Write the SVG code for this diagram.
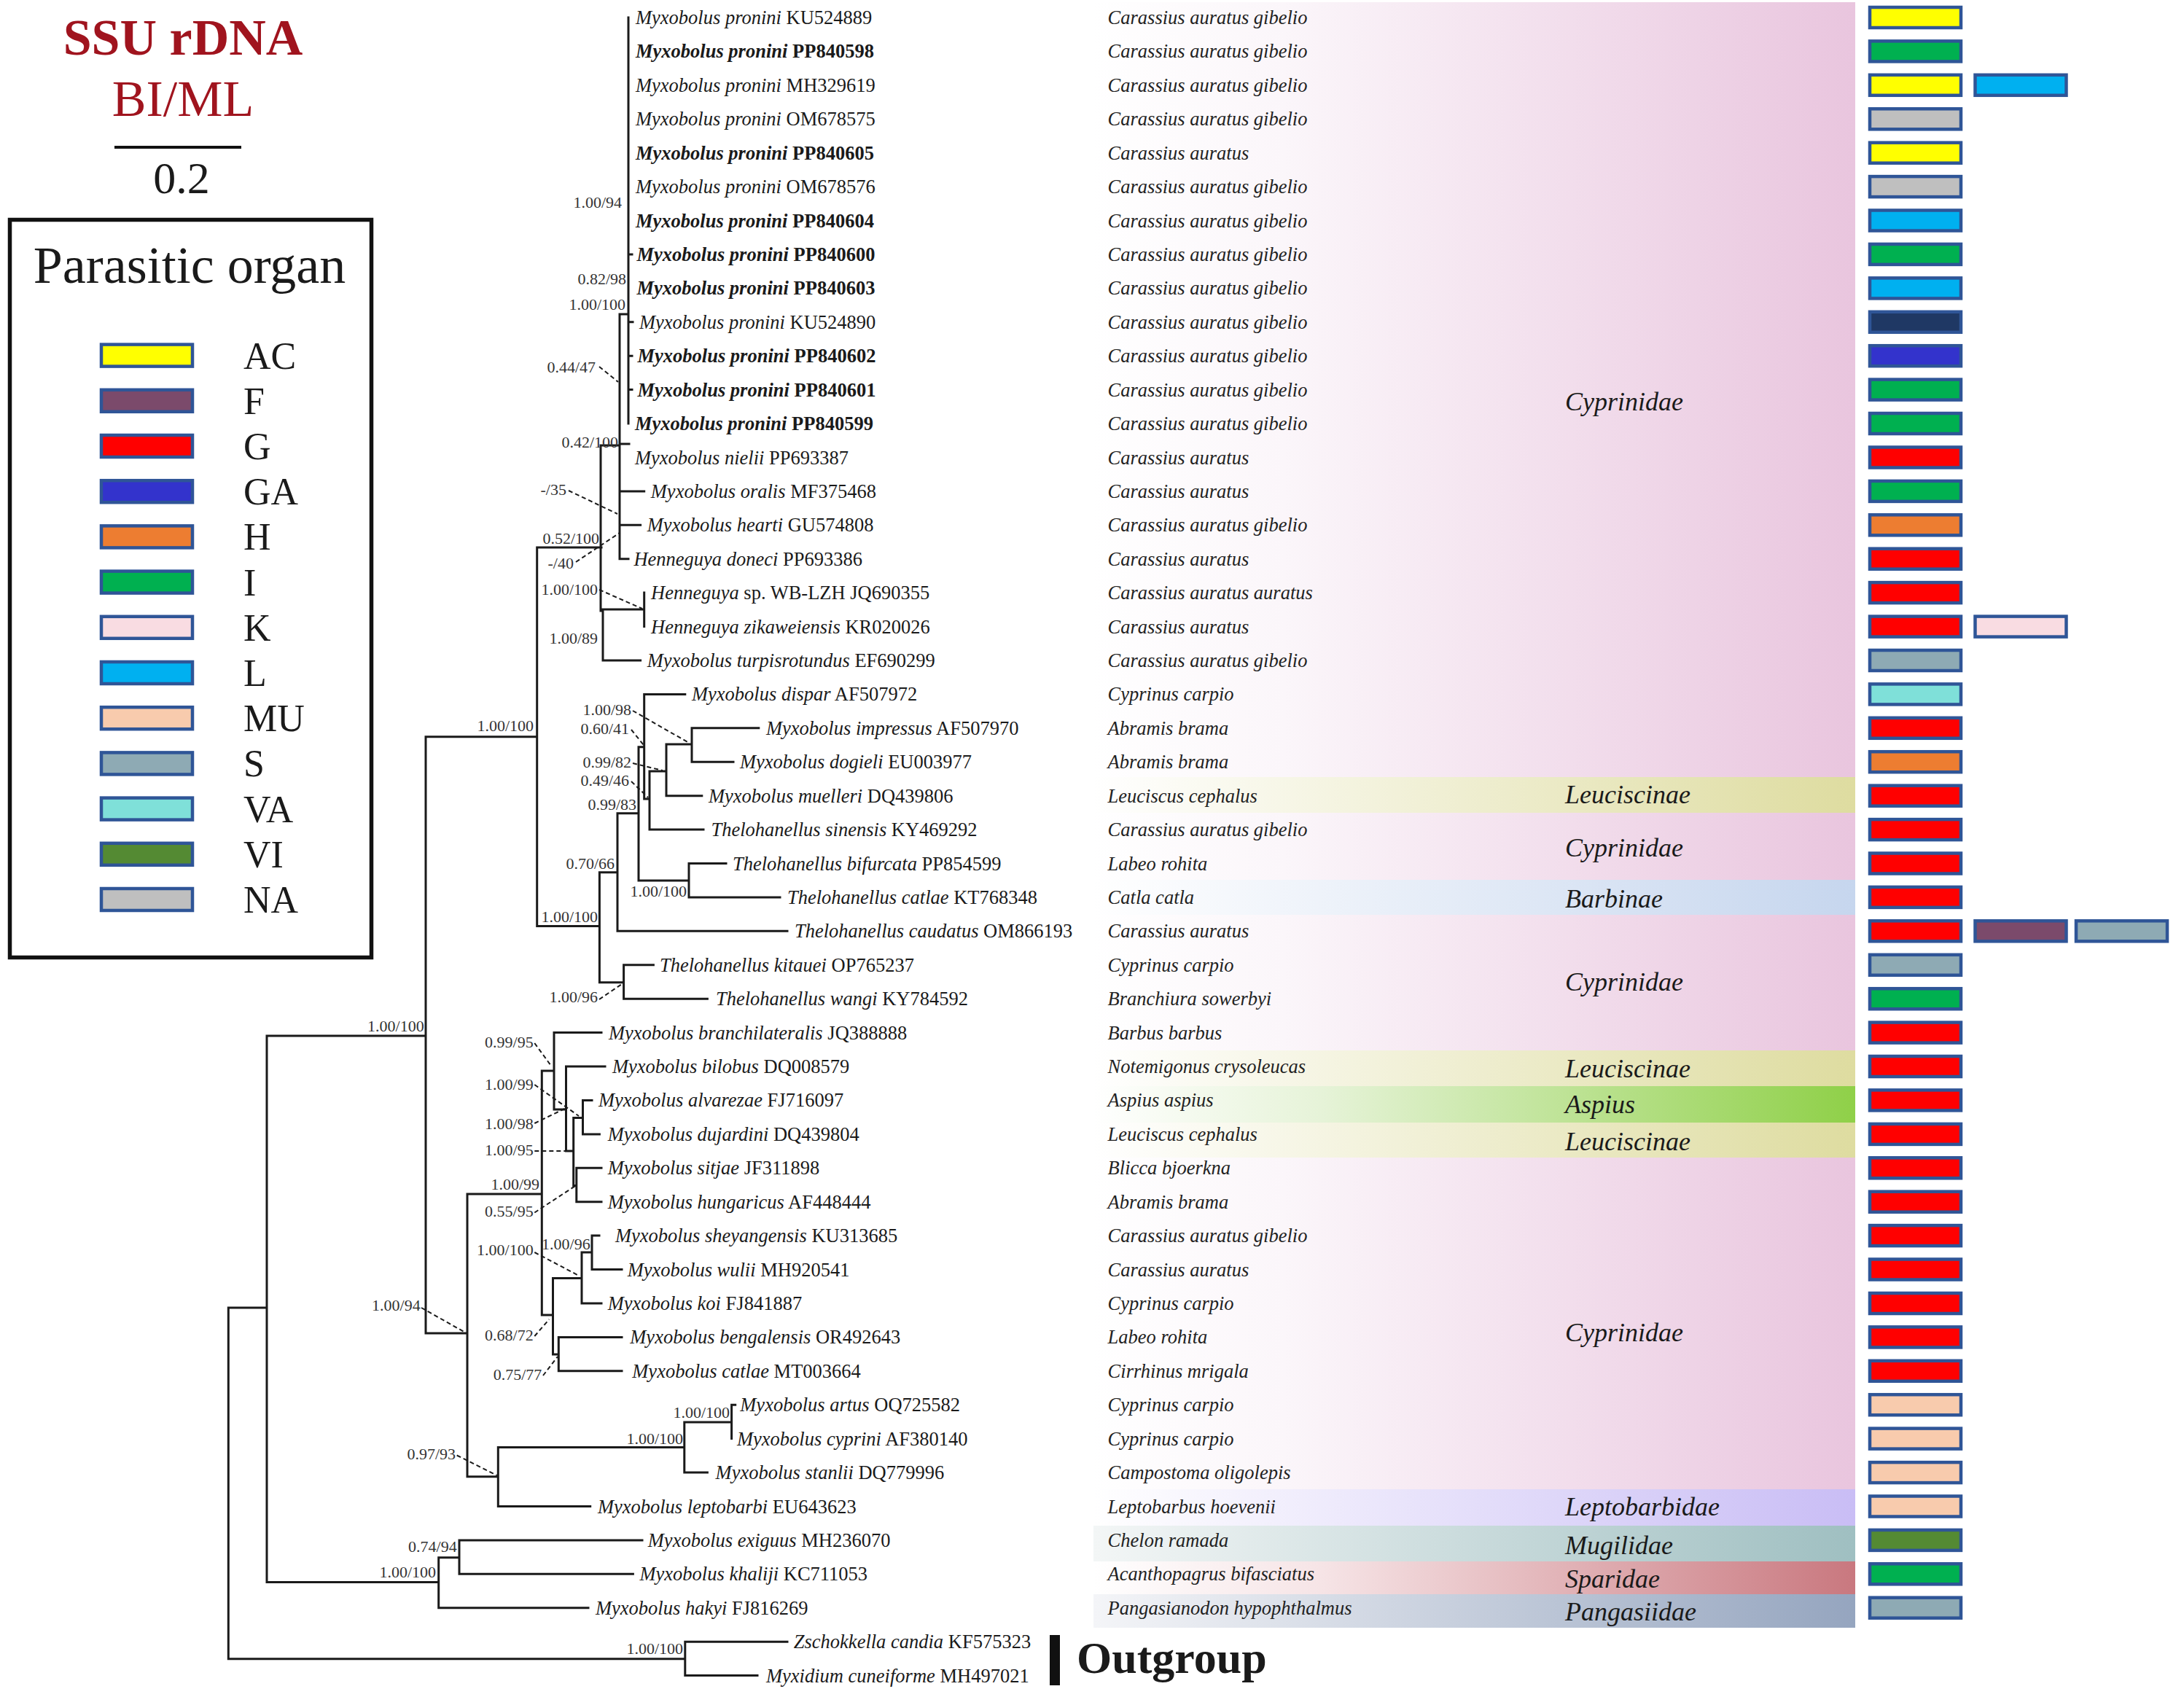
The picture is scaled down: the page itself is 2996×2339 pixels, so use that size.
<svg xmlns="http://www.w3.org/2000/svg" width="2996" height="2339" viewBox="0 0 2996 2339">
<defs>
<style>
text{font-family:"Liberation Serif","Times New Roman",serif;fill:#1a1a1a}
.tx{font-size:26.5px}
.i{font-style:italic}
.b{font-weight:bold}
.host{font-size:26.5px;font-style:italic;fill:#222}
.sup{font-size:22px;fill:#333}
.fam{font-size:36px;font-style:italic;fill:#1a1a1a}
.br{stroke:#1a1a1a;stroke-width:3;fill:none;stroke-linecap:square}
.ptr{stroke:#1a1a1a;stroke-width:2;fill:none;stroke-dasharray:6 4}
.box{stroke:#2F5597;stroke-width:4.5}
.AC{fill:#FFFF00}.F{fill:#7B4A6B}.G{fill:#FF0000}.GA{fill:#3333CC}.H{fill:#ED7D31}.I{fill:#00B050}.K{fill:#F9DCE2}.L{fill:#00B0F0}.MU{fill:#F8CBAD}.S{fill:#8EAAB4}.VA{fill:#7FE0D9}.VI{fill:#548A33}.NA{fill:#BFBFBF}.NV{fill:#1F3864}
</style>
<linearGradient id="gCyp" x1="0" x2="1" y1="0" y2="0"><stop offset="0" stop-color="#ffffff"/><stop offset="0.25" stop-color="#fbf6fa"/><stop offset="1" stop-color="#e9c5de"/></linearGradient>
<linearGradient id="gLeu" x1="0" x2="1" y1="0" y2="0"><stop offset="0" stop-color="#ffffff"/><stop offset="1" stop-color="#dedca0"/></linearGradient>
<linearGradient id="gBar" x1="0" x2="1" y1="0" y2="0"><stop offset="0" stop-color="#ffffff"/><stop offset="1" stop-color="#c6d6ee"/></linearGradient>
<linearGradient id="gAsp" x1="0" x2="1" y1="0" y2="0"><stop offset="0" stop-color="#ffffff"/><stop offset="0.3" stop-color="#e6f3d8"/><stop offset="1" stop-color="#8fd048"/></linearGradient>
<linearGradient id="gLep" x1="0" x2="1" y1="0" y2="0"><stop offset="0" stop-color="#ffffff"/><stop offset="1" stop-color="#c9bdf5"/></linearGradient>
<linearGradient id="gMug" x1="0" x2="1" y1="0" y2="0"><stop offset="0" stop-color="#f3f6f6"/><stop offset="1" stop-color="#9fbfc1"/></linearGradient>
<linearGradient id="gSpa" x1="0" x2="1" y1="0" y2="0"><stop offset="0" stop-color="#ffffff"/><stop offset="0.3" stop-color="#f6e4e6"/><stop offset="1" stop-color="#c9787f"/></linearGradient>
<linearGradient id="gPan" x1="0" x2="1" y1="0" y2="0"><stop offset="0" stop-color="#f4f5f8"/><stop offset="1" stop-color="#95a5bf"/></linearGradient>
</defs>
<rect width="2996" height="2339" fill="#ffffff"/>

<g id="family-bands">
<rect x="1500" y="3" width="1045" height="1063" fill="url(#gCyp)"/>
<rect x="1500" y="1066" width="1045" height="49" fill="url(#gLeu)"/>
<rect x="1500" y="1115" width="1045" height="92" fill="url(#gCyp)"/>
<rect x="1500" y="1207" width="1045" height="48" fill="url(#gBar)"/>
<rect x="1500" y="1255" width="1045" height="186" fill="url(#gCyp)"/>
<rect x="1500" y="1441" width="1045" height="49" fill="url(#gLeu)"/>
<rect x="1500" y="1490" width="1045" height="50" fill="url(#gAsp)"/>
<rect x="1500" y="1540" width="1045" height="48" fill="url(#gLeu)"/>
<rect x="1500" y="1588" width="1045" height="455" fill="url(#gCyp)"/>
<rect x="1500" y="2043" width="1045" height="50" fill="url(#gLep)"/>
<rect x="1500" y="2093" width="1045" height="49" fill="url(#gMug)"/>
<rect x="1500" y="2142" width="1045" height="45" fill="url(#gSpa)"/>
<rect x="1500" y="2187" width="1045" height="46" fill="url(#gPan)"/>
<text class="fam" x="2147" y="562.5">Cyprinidae</text>
<text class="fam" x="2147" y="1102">Leuciscinae</text>
<text class="fam" x="2147" y="1174.7">Cyprinidae</text>
<text class="fam" x="2147" y="1244.8">Barbinae</text>
<text class="fam" x="2147" y="1358.5">Cyprinidae</text>
<text class="fam" x="2147" y="1477.6">Leuciscinae</text>
<text class="fam" x="2147" y="1527">Aspius</text>
<text class="fam" x="2147" y="1578.4">Leuciscinae</text>
<text class="fam" x="2147" y="1840">Cyprinidae</text>
<text class="fam" x="2147" y="2079">Leptobarbidae</text>
<text class="fam" x="2147" y="2132">Mugilidae</text>
<text class="fam" x="2147" y="2177.5">Sparidae</text>
<text class="fam" x="2147" y="2223">Pangasiidae</text>
</g>

<g id="title">
<text x="251" y="75" font-size="70" font-weight="bold" text-anchor="middle" style="fill:#A0141E">SSU rDNA</text>
<text x="251" y="159" font-size="70" text-anchor="middle" style="fill:#A0141E">BI/ML</text>
<line x1="157" y1="202" x2="331" y2="202" stroke="#111" stroke-width="4"/>
<text x="249" y="265" font-size="62" text-anchor="middle">0.2</text>
</g>

<g id="legend">
<rect x="13.5" y="301.5" width="496" height="1012" fill="#fff" stroke="#111" stroke-width="5.5"/>
<text x="260" y="388" font-size="72" text-anchor="middle">Parasitic organ</text>
<g font-size="52">
<rect class="box AC" x="139" y="472.6" width="125" height="30" stroke-width="4"/><text x="334" y="506">AC</text>
<rect class="box F" x="139" y="534.8" width="125" height="30" stroke-width="4"/><text x="334" y="568">F</text>
<rect class="box G" x="139" y="597" width="125" height="30" stroke-width="4"/><text x="334" y="630">G</text>
<rect class="box GA" x="139" y="659.2" width="125" height="30" stroke-width="4"/><text x="334" y="692">GA</text>
<rect class="box H" x="139" y="721.4" width="125" height="30" stroke-width="4"/><text x="334" y="754">H</text>
<rect class="box I" x="139" y="783.6" width="125" height="30" stroke-width="4"/><text x="334" y="817">I</text>
<rect class="box K" x="139" y="845.8" width="125" height="30" stroke-width="4"/><text x="334" y="879">K</text>
<rect class="box L" x="139" y="908" width="125" height="30" stroke-width="4"/><text x="334" y="941">L</text>
<rect class="box MU" x="139" y="970.2" width="125" height="30" stroke-width="4"/><text x="334" y="1003">MU</text>
<rect class="box S" x="139" y="1032.4" width="125" height="30" stroke-width="4"/><text x="334" y="1065">S</text>
<rect class="box VA" x="139" y="1094.6" width="125" height="30" stroke-width="4"/><text x="334" y="1128">VA</text>
<rect class="box VI" x="139" y="1156.8" width="125" height="30" stroke-width="4"/><text x="334" y="1190">VI</text>
<rect class="box NA" x="139" y="1219" width="125" height="30" stroke-width="4"/><text x="334" y="1252">NA</text>
</g>
</g>

<g id="connectors">
<path class="br" d="M313.3,1794V2275.8M313.3,1794H366M313.3,2275.8H939.8
M939.8,2252.2V2298.6M939.8,2252.2H1080M939.8,2298.6H1039
M366,1421V2170.6M366,1421H584M366,2170.6H601.7
M601.7,2136.8V2205.7M601.7,2136.8H630M601.7,2205.7H807
M630,2112.9V2159.3M630,2112.9H881M630,2159.3H868.4
M584,1010.8V1829M584,1010.8H736.7M584,1829H641
M736.7,751V1270.6M736.7,751H825M736.7,1270.6H822.4
M824,611V838M824,611H850
M850,431V766.7M850,431H862M850,609H863M850,673.9H883.7M850,720.3H878.6M850,766.7H862
M862,24V581M862,348.9H867M862,441.8H868M862,488.2H867M862,534.6H867
M827,836V906M824,836H883.7M827,906H878.6
M883.7,813.1V859.6
M822.4,1196.7V1347.7M822.4,1196.7H847M822.4,1347.7H855.6
M847,1115.8V1277.3M847,1115.8H876M847,1277.3H1080
M876,1024.8V1208M876,1024.8H883.7M876,1208H945
M883.7,952.4V1096M883.7,952.4H939.8M883.7,1096H891
M891,1058V1138.1M891,1058H914M891,1138.1H965
M914,1021V1091.7M914,1021H949M914,1091.7H962.8
M949,998.8V1045.2M949,998.8H1040.8M949,1045.2H1006
M945,1184.5V1230.9M945,1184.5H996M945,1230.9H1070
M855.6,1323.8V1370.2M855.6,1323.8H896.4M855.6,1370.2H970.4
M641,1638V2025.8M641,1638H743.3M641,2025.8H683.3
M683.3,1985.6V2066.5M683.3,1985.6H938.8M683.3,2066.5H809.7
M938.8,1951V2020.1M938.8,1951H1003.6M938.8,2020.1H970.4
M1003.6,1927.2V1973.6M1003.6,1927.2H1008.7
M743.3,1469V1804M743.3,1469H760M743.3,1804H758.5
M760,1416.6V1522M760,1416.6H825M760,1522H776.5
M776.5,1463V1579M776.5,1463H830M776.5,1579H786.7
M786.7,1533.5V1626.5M786.7,1533.5H799.5M786.7,1626.5H790.8
M799.5,1509.4V1555.9M799.5,1509.4H812M799.5,1555.9H822.4
M790.8,1602.3V1648.7M790.8,1602.3H825M790.8,1648.7H825
M758.5,1753.6V1858M758.5,1753.6H798M758.5,1858H766.3
M798,1718V1788M798,1718H812M798,1788H825
M812,1695.1V1741.5M812,1695.1H822M812,1741.5H853
M766.3,1834.4V1880.8M766.3,1834.4H853M766.3,1880.8H853"/>
<path class="ptr" d="M822,503L848,524M780,673L847,705M790,771L850,731M822,809L881,835M868,975L945,1019M866,1001L883.7,1023M868,1047L909,1057M866,1072L889,1094M822,1371L853,1350M733.3,1431L756.7,1463M733.3,1488L794,1531M733.3,1541L776.5,1520M733.3,1579L776.5,1579M733.3,1663.5L789,1627M733.3,1718L794,1750M578,1794L640,1829M733.3,1833L753.3,1810M745,1887L765,1861M626.7,1996.5L681.7,2024"/>
</g>

<g id="support-values" class="sup" text-anchor="end">
<text class="sup" x="853" y="285">1.00/94</text>
<text class="sup" x="859" y="390">0.82/98</text>
<text class="sup" x="858" y="425">1.00/100</text>
<text class="sup" x="817" y="511">0.44/47</text>
<text class="sup" x="848" y="614">0.42/100</text>
<text class="sup" x="777" y="679">-/35</text>
<text class="sup" x="822" y="746">0.52/100</text>
<text class="sup" x="787" y="780">-/40</text>
<text class="sup" x="820" y="816">1.00/100</text>
<text class="sup" x="820" y="883">1.00/89</text>
<text class="sup" x="866" y="981">1.00/98</text>
<text class="sup" x="863" y="1007">0.60/41</text>
<text class="sup" x="732" y="1003">1.00/100</text>
<text class="sup" x="866" y="1052.5">0.99/82</text>
<text class="sup" x="863" y="1078">0.49/46</text>
<text class="sup" x="873" y="1111">0.99/83</text>
<text class="sup" x="843" y="1191.5">0.70/66</text>
<text class="sup" x="942" y="1230">1.00/100</text>
<text class="sup" x="820" y="1265">1.00/100</text>
<text class="sup" x="820" y="1375">1.00/96</text>
<text class="sup" x="581.7" y="1414.8">1.00/100</text>
<text class="sup" x="731.7" y="1437">0.99/95</text>
<text class="sup" x="731.7" y="1494.5">1.00/99</text>
<text class="sup" x="731.7" y="1548.7">1.00/98</text>
<text class="sup" x="731.7" y="1585">1.00/95</text>
<text class="sup" x="740" y="1631.7">1.00/99</text>
<text class="sup" x="731.7" y="1668.6">0.55/95</text>
<text class="sup" x="809.7" y="1713.5">1.00/96</text>
<text class="sup" x="731.7" y="1722">1.00/100</text>
<text class="sup" x="576.7" y="1797.5">1.00/94</text>
<text class="sup" x="731.7" y="1839">0.68/72</text>
<text class="sup" x="743.3" y="1893">0.75/77</text>
<text class="sup" x="1001" y="1945">1.00/100</text>
<text class="sup" x="937" y="1980.6">1.00/100</text>
<text class="sup" x="625" y="2001.6">0.97/93</text>
<text class="sup" x="626.7" y="2129">0.74/94</text>
<text class="sup" x="598" y="2164">1.00/100</text>
<text class="sup" x="937" y="2268.8">1.00/100</text>
</g>

<g id="taxa">
<g id="t01" transform="translate(0,24)"><text class="tx" x="872" y="9"><tspan class="i">Myxobolus pronini</tspan> KU524889</text><text class="host" x="1519.6" y="9">Carassius auratus gibelio</text><rect class="box AC" x="2565" y="-14" width="125" height="28"/></g>
<g id="t02" transform="translate(0,70.4)"><text class="tx b" x="872" y="9"><tspan class="i">Myxobolus pronini</tspan> PP840598</text><text class="host" x="1519.6" y="9">Carassius auratus gibelio</text><rect class="box I" x="2565" y="-14" width="125" height="28"/></g>
<g id="t03" transform="translate(0,116.8)"><text class="tx" x="872" y="9"><tspan class="i">Myxobolus pronini</tspan> MH329619</text><text class="host" x="1519.6" y="9">Carassius auratus gibelio</text><rect class="box AC" x="2565" y="-14" width="125" height="28"/><rect class="box L" x="2709.5" y="-14" width="125" height="28"/></g>
<g id="t04" transform="translate(0,163.3)"><text class="tx" x="872" y="9"><tspan class="i">Myxobolus pronini</tspan> OM678575</text><text class="host" x="1519.6" y="9">Carassius auratus gibelio</text><rect class="box NA" x="2565" y="-14" width="125" height="28"/></g>
<g id="t05" transform="translate(0,209.7)"><text class="tx b" x="872" y="9"><tspan class="i">Myxobolus pronini</tspan> PP840605</text><text class="host" x="1519.6" y="9">Carassius auratus</text><rect class="box AC" x="2565" y="-14" width="125" height="28"/></g>
<g id="t06" transform="translate(0,256.1)"><text class="tx" x="872" y="9"><tspan class="i">Myxobolus pronini</tspan> OM678576</text><text class="host" x="1519.6" y="9">Carassius auratus gibelio</text><rect class="box NA" x="2565" y="-14" width="125" height="28"/></g>
<g id="t07" transform="translate(0,302.5)"><text class="tx b" x="872" y="9"><tspan class="i">Myxobolus pronini</tspan> PP840604</text><text class="host" x="1519.6" y="9">Carassius auratus gibelio</text><rect class="box L" x="2565" y="-14" width="125" height="28"/></g>
<g id="t08" transform="translate(0,348.9)"><text class="tx b" x="873.5" y="9"><tspan class="i">Myxobolus pronini</tspan> PP840600</text><text class="host" x="1519.6" y="9">Carassius auratus gibelio</text><rect class="box I" x="2565" y="-14" width="125" height="28"/></g>
<g id="t09" transform="translate(0,395.4)"><text class="tx b" x="873.5" y="9"><tspan class="i">Myxobolus pronini</tspan> PP840603</text><text class="host" x="1519.6" y="9">Carassius auratus gibelio</text><rect class="box L" x="2565" y="-14" width="125" height="28"/></g>
<g id="t10" transform="translate(0,441.8)"><text class="tx" x="877" y="9"><tspan class="i">Myxobolus pronini</tspan> KU524890</text><text class="host" x="1519.6" y="9">Carassius auratus gibelio</text><rect class="box NV" x="2565" y="-14" width="125" height="28"/></g>
<g id="t11" transform="translate(0,488.2)"><text class="tx b" x="874.5" y="9"><tspan class="i">Myxobolus pronini</tspan> PP840602</text><text class="host" x="1519.6" y="9">Carassius auratus gibelio</text><rect class="box GA" x="2565" y="-14" width="125" height="28"/></g>
<g id="t12" transform="translate(0,534.6)"><text class="tx b" x="874.5" y="9"><tspan class="i">Myxobolus pronini</tspan> PP840601</text><text class="host" x="1519.6" y="9">Carassius auratus gibelio</text><rect class="box I" x="2565" y="-14" width="125" height="28"/></g>
<g id="t13" transform="translate(0,581)"><text class="tx b" x="871" y="9"><tspan class="i">Myxobolus pronini</tspan> PP840599</text><text class="host" x="1519.6" y="9">Carassius auratus gibelio</text><rect class="box I" x="2565" y="-14" width="125" height="28"/></g>
<g id="t14" transform="translate(0,627.5)"><text class="tx" x="871" y="9"><tspan class="i">Myxobolus nielii</tspan> PP693387</text><text class="host" x="1519.6" y="9">Carassius auratus</text><rect class="box G" x="2565" y="-14" width="125" height="28"/></g>
<g id="t15" transform="translate(0,673.9)"><text class="tx" x="892.8" y="9"><tspan class="i">Myxobolus oralis</tspan> MF375468</text><text class="host" x="1519.6" y="9">Carassius auratus</text><rect class="box I" x="2565" y="-14" width="125" height="28"/></g>
<g id="t16" transform="translate(0,720.3)"><text class="tx" x="887.8" y="9"><tspan class="i">Myxobolus hearti</tspan> GU574808</text><text class="host" x="1519.6" y="9">Carassius auratus gibelio</text><rect class="box H" x="2565" y="-14" width="125" height="28"/></g>
<g id="t17" transform="translate(0,766.7)"><text class="tx" x="869.4" y="9"><tspan class="i">Henneguya doneci</tspan> PP693386</text><text class="host" x="1519.6" y="9">Carassius auratus</text><rect class="box G" x="2565" y="-14" width="125" height="28"/></g>
<g id="t18" transform="translate(0,813.1)"><text class="tx" x="893" y="9"><tspan class="i">Henneguya</tspan> sp. WB-LZH JQ690355</text><text class="host" x="1519.6" y="9">Carassius auratus auratus</text><rect class="box G" x="2565" y="-14" width="125" height="28"/></g>
<g id="t19" transform="translate(0,859.6)"><text class="tx" x="893" y="9"><tspan class="i">Henneguya zikaweiensis</tspan> KR020026</text><text class="host" x="1519.6" y="9">Carassius auratus</text><rect class="box G" x="2565" y="-14" width="125" height="28"/><rect class="box K" x="2709.5" y="-14" width="125" height="28"/></g>
<g id="t20" transform="translate(0,906)"><text class="tx" x="887.8" y="9"><tspan class="i">Myxobolus turpisrotundus</tspan> EF690299</text><text class="host" x="1519.6" y="9">Carassius auratus gibelio</text><rect class="box S" x="2565" y="-14" width="125" height="28"/></g>
<g id="t21" transform="translate(0,952.4)"><text class="tx" x="949" y="9"><tspan class="i">Myxobolus dispar</tspan> AF507972</text><text class="host" x="1519.6" y="9">Cyprinus carpio</text><rect class="box VA" x="2565" y="-14" width="125" height="28"/></g>
<g id="t22" transform="translate(0,998.8)"><text class="tx" x="1051" y="9"><tspan class="i">Myxobolus impressus</tspan> AF507970</text><text class="host" x="1519.6" y="9">Abramis brama</text><rect class="box G" x="2565" y="-14" width="125" height="28"/></g>
<g id="t23" transform="translate(0,1045.2)"><text class="tx" x="1015" y="9"><tspan class="i">Myxobolus dogieli</tspan> EU003977</text><text class="host" x="1519.6" y="9">Abramis brama</text><rect class="box H" x="2565" y="-14" width="125" height="28"/></g>
<g id="t24" transform="translate(0,1091.7)"><text class="tx" x="972" y="9"><tspan class="i">Myxobolus muelleri</tspan> DQ439806</text><text class="host" x="1519.6" y="9">Leuciscus cephalus</text><rect class="box G" x="2565" y="-14" width="125" height="28"/></g>
<g id="t25" transform="translate(0,1138.1)"><text class="tx" x="975.5" y="9"><tspan class="i">Thelohanellus sinensis</tspan> KY469292</text><text class="host" x="1519.6" y="9">Carassius auratus gibelio</text><rect class="box G" x="2565" y="-14" width="125" height="28"/></g>
<g id="t26" transform="translate(0,1184.5)"><text class="tx" x="1005" y="9"><tspan class="i">Thelohanellus bifurcata</tspan> PP854599</text><text class="host" x="1519.6" y="9">Labeo rohita</text><rect class="box G" x="2565" y="-14" width="125" height="28"/></g>
<g id="t27" transform="translate(0,1230.9)"><text class="tx" x="1080" y="9"><tspan class="i">Thelohanellus catlae</tspan> KT768348</text><text class="host" x="1519.6" y="9">Catla catla</text><rect class="box G" x="2565" y="-14" width="125" height="28"/></g>
<g id="t28" transform="translate(0,1277.3)"><text class="tx" x="1090" y="9"><tspan class="i">Thelohanellus caudatus</tspan> OM866193</text><text class="host" x="1519.6" y="9">Carassius auratus</text><rect class="box G" x="2565" y="-14" width="125" height="28"/><rect class="box F" x="2709.5" y="-14" width="125" height="28"/><rect class="box S" x="2848" y="-14" width="125" height="28"/></g>
<g id="t29" transform="translate(0,1323.8)"><text class="tx" x="905" y="9"><tspan class="i">Thelohanellus kitauei</tspan> OP765237</text><text class="host" x="1519.6" y="9">Cyprinus carpio</text><rect class="box S" x="2565" y="-14" width="125" height="28"/></g>
<g id="t30" transform="translate(0,1370.2)"><text class="tx" x="982" y="9"><tspan class="i">Thelohanellus wangi</tspan> KY784592</text><text class="host" x="1519.6" y="9">Branchiura sowerbyi</text><rect class="box I" x="2565" y="-14" width="125" height="28"/></g>
<g id="t31" transform="translate(0,1416.6)"><text class="tx" x="835" y="9"><tspan class="i">Myxobolus branchilateralis</tspan> JQ388888</text><text class="host" x="1519.6" y="9">Barbus barbus</text><rect class="box G" x="2565" y="-14" width="125" height="28"/></g>
<g id="t32" transform="translate(0,1463)"><text class="tx" x="840" y="9"><tspan class="i">Myxobolus bilobus</tspan> DQ008579</text><text class="host" x="1519.6" y="9">Notemigonus crysoleucas</text><rect class="box G" x="2565" y="-14" width="125" height="28"/></g>
<g id="t33" transform="translate(0,1509.4)"><text class="tx" x="821" y="9"><tspan class="i">Myxobolus alvarezae</tspan> FJ716097</text><text class="host" x="1519.6" y="9">Aspius aspius</text><rect class="box G" x="2565" y="-14" width="125" height="28"/></g>
<g id="t34" transform="translate(0,1555.9)"><text class="tx" x="833.7" y="9"><tspan class="i">Myxobolus dujardini</tspan> DQ439804</text><text class="host" x="1519.6" y="9">Leuciscus cephalus</text><rect class="box G" x="2565" y="-14" width="125" height="28"/></g>
<g id="t35" transform="translate(0,1602.3)"><text class="tx" x="833.7" y="9"><tspan class="i">Myxobolus sitjae</tspan> JF311898</text><text class="host" x="1519.6" y="9">Blicca bjoerkna</text><rect class="box G" x="2565" y="-14" width="125" height="28"/></g>
<g id="t36" transform="translate(0,1648.7)"><text class="tx" x="833.7" y="9"><tspan class="i">Myxobolus hungaricus</tspan> AF448444</text><text class="host" x="1519.6" y="9">Abramis brama</text><rect class="box G" x="2565" y="-14" width="125" height="28"/></g>
<g id="t37" transform="translate(0,1695.1)"><text class="tx" x="844" y="9"><tspan class="i">Myxobolus sheyangensis</tspan> KU313685</text><text class="host" x="1519.6" y="9">Carassius auratus gibelio</text><rect class="box G" x="2565" y="-14" width="125" height="28"/></g>
<g id="t38" transform="translate(0,1741.5)"><text class="tx" x="860.7" y="9"><tspan class="i">Myxobolus wulii</tspan> MH920541</text><text class="host" x="1519.6" y="9">Carassius auratus</text><rect class="box G" x="2565" y="-14" width="125" height="28"/></g>
<g id="t39" transform="translate(0,1788)"><text class="tx" x="833.7" y="9"><tspan class="i">Myxobolus koi</tspan> FJ841887</text><text class="host" x="1519.6" y="9">Cyprinus carpio</text><rect class="box G" x="2565" y="-14" width="125" height="28"/></g>
<g id="t40" transform="translate(0,1834.4)"><text class="tx" x="864.3" y="9"><tspan class="i">Myxobolus bengalensis</tspan> OR492643</text><text class="host" x="1519.6" y="9">Labeo rohita</text><rect class="box G" x="2565" y="-14" width="125" height="28"/></g>
<g id="t41" transform="translate(0,1880.8)"><text class="tx" x="867.3" y="9"><tspan class="i">Myxobolus catlae</tspan> MT003664</text><text class="host" x="1519.6" y="9">Cirrhinus mrigala</text><rect class="box G" x="2565" y="-14" width="125" height="28"/></g>
<g id="t42" transform="translate(0,1927.2)"><text class="tx" x="1015.3" y="9"><tspan class="i">Myxobolus artus</tspan> OQ725582</text><text class="host" x="1519.6" y="9">Cyprinus carpio</text><rect class="box MU" x="2565" y="-14" width="125" height="28"/></g>
<g id="t43" transform="translate(0,1973.6)"><text class="tx" x="1011" y="9"><tspan class="i">Myxobolus cyprini</tspan> AF380140</text><text class="host" x="1519.6" y="9">Cyprinus carpio</text><rect class="box MU" x="2565" y="-14" width="125" height="28"/></g>
<g id="t44" transform="translate(0,2020.1)"><text class="tx" x="981.6" y="9"><tspan class="i">Myxobolus stanlii</tspan> DQ779996</text><text class="host" x="1519.6" y="9">Campostoma oligolepis</text><rect class="box MU" x="2565" y="-14" width="125" height="28"/></g>
<g id="t45" transform="translate(0,2066.5)"><text class="tx" x="819.9" y="9"><tspan class="i">Myxobolus leptobarbi</tspan> EU643623</text><text class="host" x="1519.6" y="9">Leptobarbus hoevenii</text><rect class="box MU" x="2565" y="-14" width="125" height="28"/></g>
<g id="t46" transform="translate(0,2112.9)"><text class="tx" x="888.8" y="9"><tspan class="i">Myxobolus exiguus</tspan> MH236070</text><text class="host" x="1519.6" y="9">Chelon ramada</text><rect class="box VI" x="2565" y="-14" width="125" height="28"/></g>
<g id="t47" transform="translate(0,2159.3)"><text class="tx" x="877.5" y="9"><tspan class="i">Myxobolus khaliji</tspan> KC711053</text><text class="host" x="1519.6" y="9">Acanthopagrus bifasciatus</text><rect class="box I" x="2565" y="-14" width="125" height="28"/></g>
<g id="t48" transform="translate(0,2205.7)"><text class="tx" x="817" y="9"><tspan class="i">Myxobolus hakyi</tspan> FJ816269</text><text class="host" x="1519.6" y="9">Pangasianodon hypophthalmus</text><rect class="box S" x="2565" y="-14" width="125" height="28"/></g>
<g id="t49" transform="translate(0,2252.2)"><text class="tx" x="1088.8" y="9"><tspan class="i">Zschokkella candia</tspan> KF575323</text></g>
<g id="t50" transform="translate(0,2298.6)"><text class="tx" x="1051" y="9"><tspan class="i">Myxidium cuneiforme</tspan> MH497021</text></g>
</g>

<g id="outgroup">
<rect x="1440" y="2243" width="14" height="69" fill="#111"/>
<text x="1477" y="2295" font-size="62" font-weight="bold">Outgroup</text>
</g>
</svg>
